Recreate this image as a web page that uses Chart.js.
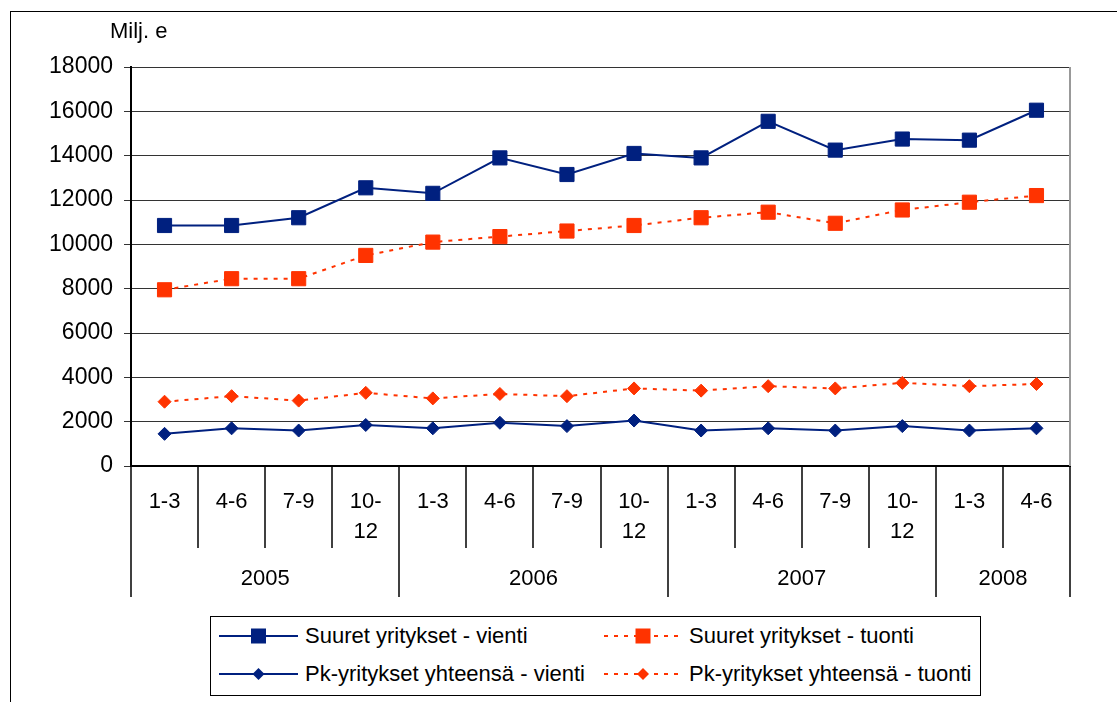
<!DOCTYPE html>
<html>
<head>
<meta charset="utf-8">
<script src="https://cdn.jsdelivr.net/npm/chart.js"></script>
<style>
  body { margin: 0; background: #fff; font-family: "Liberation Sans", Arial, sans-serif; }
  #wrap { position: relative; width: 1117px; height: 702px; overflow: hidden; }
  #frame { position: absolute; left: 10px; top: 11px; width: 1200px; height: 800px; border-left: 1px solid #000; border-top: 1px solid #000; }
  #legend { position: absolute; left: 210px; top: 616px; width: 771px; height: 80px; border: 1px solid #000; box-sizing: border-box; background: #fff; }
  .item { position: absolute; display: flex; align-items: center; font-size: 22px; white-space: nowrap; color: #000; }
  .item svg { margin-right: 7px; }
  canvas { position: absolute; left: 0; top: 0; }
</style>
</head>
<body>
<div id="wrap">
  <div id="frame"></div>
  <canvas id="line-chart" width="1117" height="702"></canvas>
  <div id="legend"></div>
</div>
<script>
const quarters = ["1-3", "4-6", "7-9", "10-12", "1-3", "4-6", "7-9", "10-12", "1-3", "4-6", "7-9", "10-12", "1-3", "4-6"];
const years = ["2005", "2006", "2007", "2008"];
const quartersPerYear = [4, 4, 4, 2];

const suuretVienti = [10850, 10850, 11200, 12550, 12300, 13900, 13150, 14100, 13900, 15550, 14250, 14750, 14700, 16050];
const suuretTuonti = [7950, 8450, 8450, 9500, 10100, 10350, 10600, 10850, 11200, 11450, 10950, 11550, 11900, 12200];
const pkVienti = [1450, 1700, 1600, 1850, 1700, 1950, 1800, 2050, 1600, 1700, 1600, 1800, 1600, 1700];
const pkTuonti = [2900, 3150, 2950, 3300, 3050, 3250, 3150, 3500, 3400, 3600, 3500, 3750, 3600, 3700];

const NAVY = "#00207f";
const RED = "#ff3300";
const FONT = '"Liberation Sans", Arial, sans-serif';

const series = [
  { label: "Suuret yritykset - vienti", data: suuretVienti, color: NAVY, dash: [], style: "rect", radius: 10 },
  { label: "Suuret yritykset - tuonti", data: suuretTuonti, color: RED, dash: [4, 6], style: "rect", radius: 10 },
  { label: "Pk-yritykset yhteensä - vienti", data: pkVienti, color: NAVY, dash: [], style: "rectRot", radius: 6.5 },
  { label: "Pk-yritykset yhteensä - tuonti", data: pkTuonti, color: RED, dash: [4, 6], style: "rectRot", radius: 6.5 },
];

// "10-12" breaks after the dash like the spreadsheet did
const splitQuarter = (q) => (q.length > 3 ? [q.slice(0, q.indexOf("-") + 1), q.slice(q.indexOf("-") + 1)] : [q]);

const groupedAxis = {
  id: "groupedAxis",
  afterDraw(chart) {
    const { ctx, chartArea } = chart;
    const x = chart.scales.x;
    const step = x.getPixelForValue(1) - x.getPixelForValue(0);
    const top = chartArea.bottom;
    const quarterBottom = 548;
    const yearBottom = 597;

    ctx.save();
    // right edge of the plot
    ctx.strokeStyle = "#999";
    ctx.lineWidth = 2;
    ctx.beginPath();
    ctx.moveTo(chartArea.right, chartArea.top);
    ctx.lineTo(chartArea.right, top);
    ctx.stroke();

    // separators
    const yearStarts = [0];
    quartersPerYear.forEach((n, i) => yearStarts.push(yearStarts[i] + n));
    ctx.strokeStyle = "#000";
    ctx.lineWidth = 1.5;
    for (let i = 0; i <= quarters.length; i++) {
      const px = Math.round(x.getPixelForValue(i) - step / 2);
      ctx.beginPath();
      ctx.moveTo(px, top);
      ctx.lineTo(px, yearStarts.includes(i) ? yearBottom : quarterBottom);
      ctx.stroke();
    }

    ctx.fillStyle = "#000";
    ctx.font = "22px " + FONT;
    ctx.textAlign = "center";
    ctx.textBaseline = "middle";
    quarters.forEach((q, i) => {
      const cx = x.getPixelForValue(i);
      splitQuarter(q).forEach((line, j) => ctx.fillText(line, cx, 502 + j * 30));
    });
    years.forEach((yr, i) => {
      const a = x.getPixelForValue(yearStarts[i]) - step / 2;
      const b = x.getPixelForValue(yearStarts[i + 1] - 1) + step / 2;
      ctx.fillText(yr, (a + b) / 2, 579);
    });

    ctx.textAlign = "left";
    ctx.fillText("Milj. e", 110, 32);
    ctx.restore();
  },
};

const chart = new Chart(document.getElementById("line-chart"), {
  type: "line",
  data: {
    labels: quarters,
    datasets: series.map((s) => ({
      label: s.label,
      data: s.data,
      borderColor: s.color,
      backgroundColor: s.color,
      borderWidth: 2,
      borderDash: s.dash,
      fill: false,
      tension: 0,
      pointStyle: s.style,
      pointRadius: s.radius,
      pointBorderWidth: 1,
      pointBackgroundColor: s.color,
      pointBorderColor: s.color,
    })),
  },
  options: {
    responsive: false,
    animation: false,
    layout: { padding: { top: 67, right: 47, left: 0, bottom: 0 } },
    plugins: { legend: { display: false }, tooltip: { enabled: false } },
    scales: {
      x: {
        offset: true,
        grid: { display: false },
        ticks: { display: false },
        border: { color: "#000", width: 2 },
        afterFit: (s) => { s.height = 236; },
      },
      y: {
        min: 0,
        max: 18000,
        ticks: {
          stepSize: 2000,
          color: "#000",
          padding: 11,
          font: { size: 23, family: FONT },
          callback: (v) => String(v),
        },
        grid: { color: "#333", lineWidth: 1, tickLength: 7 },
        border: { color: "#000", width: 2 },
        afterFit: (s) => { s.width = 131; },
      },
    },
  },
  plugins: [groupedAxis],
});

// legend: line sample with marker, drawn from the same series settings
const legend = document.getElementById("legend");
const legendPos = [[8, 19], [393, 19], [8, 57], [393, 57]];
series.forEach((s, i) => {
  const w = i % 2 === 0 ? 79 : 78;
  const item = document.createElement("div");
  item.className = "item";
  item.style.left = legendPos[i][0] + "px";
  item.style.top = legendPos[i][1] - 13 + "px";
  item.style.height = "26px";
  const marker = s.style === "rect"
    ? `<rect x="${w / 2 - 7.5}" y="5.5" width="15" height="15" fill="${s.color}"/>`
    : `<polygon points="${w / 2},7 ${w / 2 + 6},13 ${w / 2},19 ${w / 2 - 6},13" fill="${s.color}"/>`;
  item.innerHTML =
    `<svg width="${w}" height="26"><line x1="0" y1="13" x2="${w}" y2="13" stroke="${s.color}" stroke-width="2" stroke-dasharray="${s.dash.join(" ")}"/>${marker}</svg>` +
    `<span>${s.label}</span>`;
  legend.appendChild(item);
});
</script>
</body>
</html>
